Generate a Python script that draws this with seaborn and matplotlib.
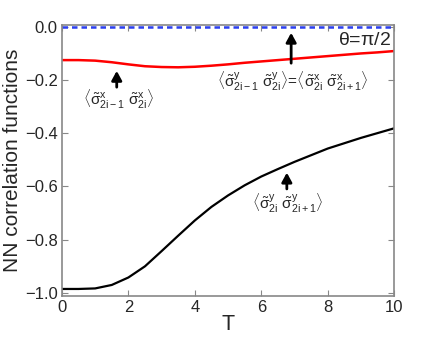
import matplotlib
matplotlib.use("Agg")
import matplotlib.pyplot as plt
import seaborn as sns
import pandas as pd

# T grid and the three nearest-neighbour correlation curves
T = [0, 0.5, 1.0, 1.5, 2.0, 2.5, 3.0, 3.5, 4.0, 4.5, 5.0,
     5.5, 6.0, 6.5, 7.0, 7.5, 8.0, 8.5, 9.0, 9.5, 10.0]
corr_y = [-0.985, -0.985, -0.983, -0.970, -0.942, -0.900, -0.843, -0.785, -0.728, -0.677, -0.634,
          -0.596, -0.563, -0.535, -0.508, -0.483, -0.458, -0.438, -0.418, -0.400, -0.382]
corr_x = [-0.126, -0.126, -0.128, -0.134, -0.142, -0.149, -0.152, -0.153, -0.151, -0.147, -0.142,
          -0.136, -0.131, -0.126, -0.121, -0.116, -0.111, -0.106, -0.101, -0.097, -0.092]
corr_0 = [0.0] * len(T)

xticks = [0, 2, 4, 6, 8, 10]
yticks = [0.0, -0.2, -0.4, -0.6, -0.8, -1.0]

df = pd.DataFrame({"T": T, "black": corr_y, "red": corr_x, "blue": corr_0})

sns.set_style("ticks")
plt.rcParams["font.family"] = ["Liberation Sans", "DejaVu Sans"]
plt.rcParams["mathtext.fontset"] = "custom"
plt.rcParams["mathtext.rm"] = "Liberation Sans"
plt.rcParams["mathtext.it"] = "Liberation Sans"
plt.rcParams["mathtext.bf"] = "Liberation Sans:bold"

fig = plt.figure(figsize=(4.36, 3.37), dpi=100)
ax = fig.add_axes([0.142, 0.122, 0.762, 0.804])

sns.lineplot(data=df, x="T", y="blue", ax=ax, color="#2b3ff0", lw=1.8, linestyle=(0, (2.2, 1.6)))
sns.lineplot(data=df, x="T", y="red", ax=ax, color="#ff0000", lw=1.8)
sns.lineplot(data=df, x="T", y="black", ax=ax, color="black", lw=1.6)

ax.set_xlim(0, 10)
ax.set_ylim(-1.011, 0.006)
ax.set_xticks(xticks)
ax.set_yticks(yticks)
ax.set_xticklabels([str(v) for v in xticks])
ax.set_yticklabels(["0.0"] + ["\u2212%.1f" % abs(v) for v in yticks[1:]])
ax.tick_params(direction="in", top=True, right=True, length=4, color="#888888",
               labelsize=12, pad=3)
for s in ax.spines.values():
    s.set_color("#888888")
    s.set_linewidth(1.2)

ax.set_xlabel("T", fontsize=15.5, labelpad=-1)
ax.set_ylabel("NN correlation functions", fontsize=15, labelpad=2)

ax.text(9.9, -0.051, r"$\theta$=$\pi$/2", fontsize=14, ha="right", va="center")

arrow = dict(arrowstyle="-|>,head_length=0.55,head_width=0.3", color="black", lw=2)
ax.annotate("", xy=(1.65, -0.156), xytext=(1.65, -0.238), arrowprops=arrow)
ax.text(1.7, -0.275, r"$\langle\tilde{\sigma}^x_{2i-1}\ \tilde{\sigma}^x_{2i}\rangle$",
        fontsize=11, ha="center", va="center")

ax.annotate("", xy=(6.9, -0.013), xytext=(6.9, -0.148), arrowprops=arrow)
ax.text(6.95, -0.205,
        r"$\langle\tilde{\sigma}^y_{2i-1}\ \tilde{\sigma}^y_{2i}\rangle$=$\langle\tilde{\sigma}^x_{2i}\ \tilde{\sigma}^x_{2i+1}\rangle$",
        fontsize=11, ha="center", va="center")

ax.annotate("", xy=(6.77, -0.538), xytext=(6.77, -0.62), arrowprops=arrow)
ax.text(6.8, -0.665, r"$\langle\tilde{\sigma}^y_{2i}\ \tilde{\sigma}^y_{2i+1}\rangle$",
        fontsize=11, ha="center", va="center")

fig.savefig("out.png", dpi=100)
